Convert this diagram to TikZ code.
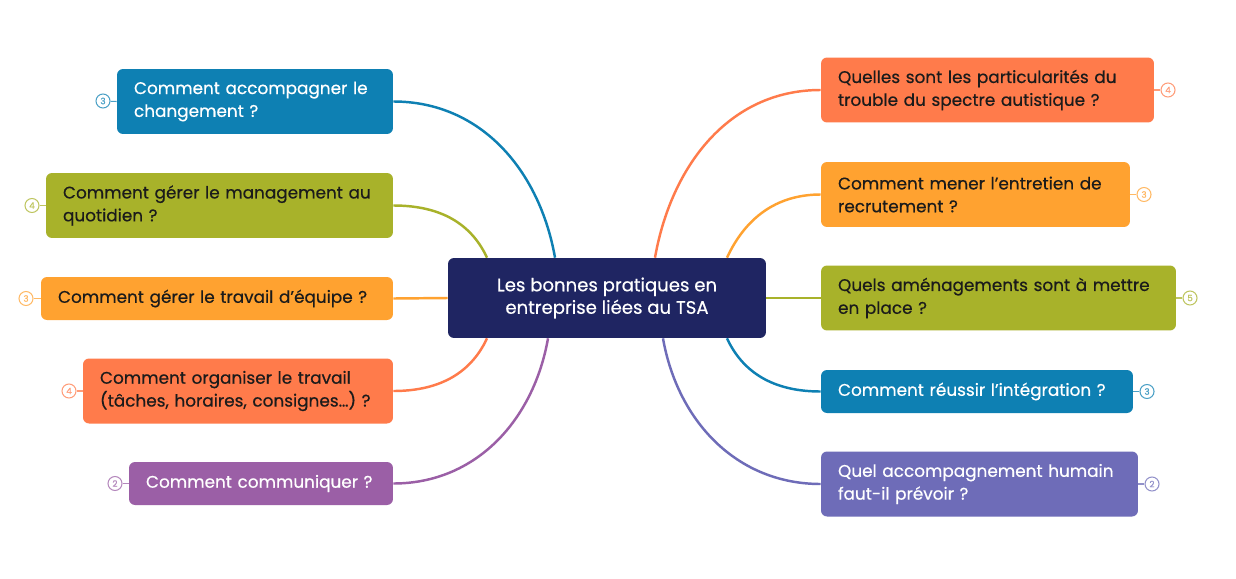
\documentclass[tikz,border=0pt]{standalone}
\usepackage{fontspec}
\setmainfont{Poppins}[FakeBold=0.5]
\usetikzlibrary{backgrounds}

\definecolor{mmnavy}{HTML}{1F2562}
\definecolor{mmblue}{HTML}{0E80B3}
\definecolor{mmolive}{HTML}{A8B22A}
\definecolor{mmorange}{HTML}{FFA230}
\definecolor{mmcoral}{HTML}{FF7B4B}
\definecolor{mmpurple}{HTML}{9B5FA6}
\definecolor{mmviolet}{HTML}{6E6CB8}
\definecolor{mmink}{HTML}{1B1B1B}

\begin{document}
\begin{tikzpicture}[
  x=0.02cm, y=0.02cm,
  box/.style={rounded corners=0.12cm, inner xsep=0.34cm, inner ysep=0pt, align=left,
    font=\fontsize{9.6}{13}\selectfont},
  hub/.style={rounded corners=0.12cm, fill=mmnavy, text=white, align=center,
    minimum width=6.36cm, minimum height=1.6cm, font=\fontsize{10.3}{12.8}\selectfont},
  badge/.style={circle, draw, line width=0.6pt, minimum size=0.28cm, inner sep=0pt,
    fill=white, font=\fontsize{5}{5}\selectfont},
  link/.style={line width=1.4pt}
]
\useasboundingbox (0,0) rectangle (1236,-578);

% centre
\node[hub] (hub) at (607,-298) {Les bonnes pratiques en\\entreprise liées au TSA};

% left side
\node[box, fill=mmblue, text=white, text width=4.84cm, minimum height=1.3cm] (accomp) at (255,-101.5) {Comment accompagner le\\changement ?};
\node[box, fill=mmolive, text=mmink, text width=6.26cm, minimum height=1.3cm] (mgmt) at (219.5,-205.5) {Comment gérer le management au\\quotidien ?};
\node[box, fill=mmorange, text=mmink, text width=6.36cm, minimum height=0.86cm] (equipe) at (217,-298.5) {Comment gérer le travail d’équipe ?};
\node[box, fill=mmcoral, text=mmink, text width=5.52cm, minimum height=1.3cm] (orga) at (238,-391) {Comment organiser le travail\\(tâches, horaires, consignes…) ?};
\node[box, fill=mmpurple, text=white, text width=4.6cm, minimum height=0.86cm] (comm) at (261,-483.5) {Comment communiquer ?};

% right side
\node[box, fill=mmcoral, text=mmink, text width=5.98cm, minimum height=1.3cm] (partic) at (987.5,-90) {Quelles sont les particularités du\\trouble du spectre autistique ?};
\node[box, fill=mmorange, text=mmink, text width=5.5cm, minimum height=1.3cm] (entretien) at (975.5,-194.5) {Comment mener l’entretien de\\recrutement ?};
\node[box, fill=mmolive, text=mmink, text width=6.42cm, minimum height=1.3cm] (amenag) at (998.5,-298) {Quels aménagements sont à mettre\\en place ?};
\node[box, fill=mmblue, text=white, text width=5.56cm, minimum height=0.86cm] (integ) at (977,-391.5) {Comment réussir l’intégration ?};
\node[box, fill=mmviolet, text=white, text width=5.66cm, minimum height=1.3cm] (humain) at (979.5,-484) {Quel accompagnement humain\\faut-il prévoir ?};

% counters
\node[badge, draw=mmblue!75, text=mmblue!75] (accompN) at (103,-101) {3};
\node[badge, draw=mmolive!75, text=mmolive!75] (mgmtN) at (32,-205.5) {4};
\node[badge, draw=mmorange!75, text=mmorange!75] (equipeN) at (26,-298.5) {3};
\node[badge, draw=mmcoral!75, text=mmcoral!75] (orgaN) at (69,-391) {4};
\node[badge, draw=mmpurple!75, text=mmpurple!75] (commN) at (115,-483.5) {2};
\node[badge, draw=mmcoral!75, text=mmcoral!75] (particN) at (1168,-90) {4};
\node[badge, draw=mmorange!75, text=mmorange!75] (entretienN) at (1144,-194.5) {3};
\node[badge, draw=mmolive!75, text=mmolive!75] (amenagN) at (1190,-298) {5};
\node[badge, draw=mmblue!75, text=mmblue!75] (integN) at (1147,-391.5) {3};
\node[badge, draw=mmviolet!75, text=mmviolet!75] (humainN) at (1152,-484) {2};

\begin{scope}[on background layer]
\fill[white] (0,0) rectangle (1236,-578);
\draw[link, mmblue] (accomp.east) to[out=0, in=100] ([xshift=-1.04cm]hub.north);
\draw[link, mmolive] (mgmt.east) to[out=0, in=115] ([xshift=-2.4cm]hub.north);
\draw[link, mmorange] (equipe.east) -- (hub.west);
\draw[link, mmcoral] (orga.east) to[out=0, in=-115] ([xshift=-2.4cm]hub.south);
\draw[link, mmpurple] (comm.east) to[out=0, in=-100] ([xshift=-1.18cm]hub.south);
\draw[link, mmcoral] (partic.west) to[out=180, in=80] ([xshift=0.96cm]hub.north);
\draw[link, mmorange] (entretien.west) to[out=180, in=65] ([xshift=2.4cm]hub.north);
\draw[link, mmolive] (amenag.west) -- (hub.east);
\draw[link, mmblue] (integ.west) to[out=180, in=-65] ([xshift=2.4cm]hub.south);
\draw[link, mmviolet] (humain.west) to[out=180, in=-80] ([xshift=1.12cm]hub.south);
\end{scope}

\draw[line width=0.6pt, mmblue!75] (accompN) -- (accomp.west);
\draw[line width=0.6pt, mmolive!75] (mgmtN) -- (mgmt.west);
\draw[line width=0.6pt, mmorange!75] (equipeN) -- (equipe.west);
\draw[line width=0.6pt, mmcoral!75] (orgaN) -- (orga.west);
\draw[line width=0.6pt, mmpurple!75] (commN) -- (comm.west);
\draw[line width=0.6pt, mmcoral!75] (particN) -- (partic.east);
\draw[line width=0.6pt, mmorange!75] (entretienN) -- (entretien.east);
\draw[line width=0.6pt, mmolive!75] (amenagN) -- (amenag.east);
\draw[line width=0.6pt, mmblue!75] (integN) -- (integ.east);
\draw[line width=0.6pt, mmviolet!75] (humainN) -- (humain.east);
\end{tikzpicture}
\end{document}
